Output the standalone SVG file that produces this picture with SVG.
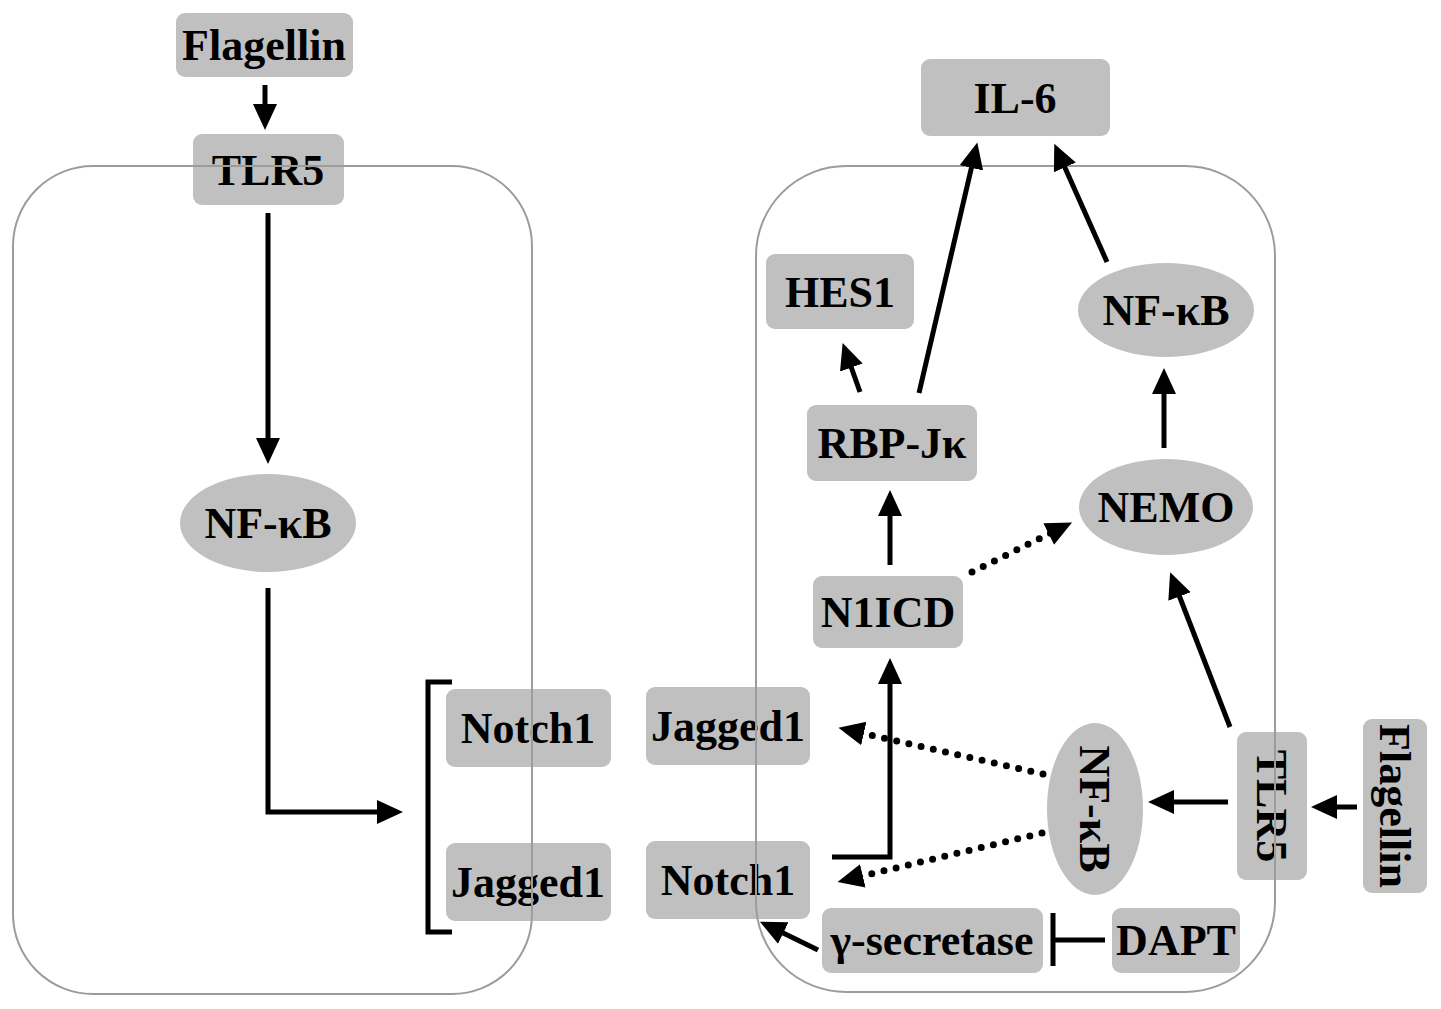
<svg xmlns="http://www.w3.org/2000/svg" width="1441" height="1009" viewBox="0 0 1441 1009">
<defs>
<style>
.box{fill:#c0c0c0;}
.t{font-family:"Liberation Serif","Times New Roman",serif;font-weight:bold;font-size:44px;fill:#000;text-anchor:middle;}
.ln{fill:none;stroke:#000;stroke-width:5;}
.dot{fill:none;stroke:#000;stroke-width:7;stroke-linecap:round;stroke-dasharray:0 12.5;}
.cell{fill:none;stroke:#9c9c9c;stroke-width:2;}
</style>
<marker id="ah" markerUnits="userSpaceOnUse" markerWidth="28" markerHeight="26" refX="7" refY="12" orient="auto">
<path d="M0,0 L26,12 L0,24 z" fill="#000"/>
</marker>
</defs>
<rect width="1441" height="1009" fill="#fff"/>
<g id="nodes">
<g id="flagellin_left"><rect class="box" x="176" y="13" width="177" height="64" rx="9"/><text class="t" x="264" y="60">Flagellin</text></g>
<g id="tlr5_left"><rect class="box" x="193" y="134" width="151" height="71" rx="9"/><text class="t" x="268" y="185">TLR5</text></g>
<g id="nfkb_left"><ellipse class="box" cx="268" cy="523" rx="88" ry="49"/><text class="t" x="268" y="538">NF-κB</text></g>
<g id="notch1_left"><rect class="box" x="446" y="689" width="165" height="78" rx="9"/><text class="t" x="528" y="743">Notch1</text></g>
<g id="jagged1_left"><rect class="box" x="446" y="843" width="165" height="78" rx="9"/><text class="t" x="528" y="897">Jagged1</text></g>
<g id="jagged1_mid"><rect class="box" x="646" y="687" width="164" height="78" rx="9"/><text class="t" x="728" y="741">Jagged1</text></g>
<g id="notch1_mid"><rect class="box" x="646" y="841" width="164" height="78" rx="9"/><text class="t" x="728" y="895">Notch1</text></g>
<g id="il6"><rect class="box" x="921" y="59" width="189" height="77" rx="9"/><text class="t" x="1015" y="113">IL-6</text></g>
<g id="hes1"><rect class="box" x="766" y="254" width="148" height="75" rx="9"/><text class="t" x="840" y="307">HES1</text></g>
<g id="rbpjk"><rect class="box" x="807" y="405" width="170" height="76" rx="9"/><text class="t" x="892" y="458">RBP-Jκ</text></g>
<g id="nfkb_right"><ellipse class="box" cx="1166" cy="310" rx="88" ry="47"/><text class="t" x="1166" y="325">NF-κB</text></g>
<g id="nemo"><ellipse class="box" cx="1166" cy="507" rx="87" ry="48"/><text class="t" x="1166" y="522">NEMO</text></g>
<g id="n1icd"><rect class="box" x="813" y="576" width="150" height="72" rx="9"/><text class="t" x="888" y="627">N1ICD</text></g>
<g id="nfkb_vertical"><ellipse class="box" cx="1095" cy="809" rx="48" ry="86"/><text class="t" transform="translate(1095,809) rotate(90)" x="0" y="15">NF-κB</text></g>
<g id="tlr5_right"><rect class="box" x="1237" y="732" width="70" height="148" rx="9"/><text class="t" transform="translate(1272,806) rotate(90)" x="0" y="15">TLR5</text></g>
<g id="flagellin_right"><rect class="box" x="1363" y="719" width="64" height="174" rx="9"/><text class="t" transform="translate(1395,806) rotate(90)" x="0" y="15">Flagellin</text></g>
<g id="gamma_secretase"><rect class="box" x="822" y="908" width="221" height="65" rx="9"/><text class="t" x="932" y="955">γ-secretase</text></g>
<g id="dapt"><rect class="box" x="1112" y="908" width="128" height="65" rx="9"/><text class="t" x="1176" y="955">DAPT</text></g>
</g>
<g id="cells">
<rect class="cell" x="13" y="166" width="519" height="828" rx="80"/>
<rect class="cell" x="756" y="166" width="519" height="826" rx="90"/>
</g>
<g id="connectors">
<line class="ln" x1="265" y1="85" x2="265" y2="111" marker-end="url(#ah)"/>
<line class="ln" x1="268" y1="213" x2="268" y2="445" marker-end="url(#ah)"/>
<path class="ln" d="M268,588 V812 H384" marker-end="url(#ah)"/>
<path class="ln" d="M452,682 H428 V932 H452"/>
<line class="ln" x1="860" y1="392" x2="849" y2="361" marker-end="url(#ah)"/>
<line class="ln" x1="919" y1="393" x2="973" y2="161" marker-end="url(#ah)"/>
<line class="ln" x1="1107" y1="262" x2="1062" y2="161" marker-end="url(#ah)"/>
<line class="ln" x1="1164" y1="448" x2="1164" y2="387" marker-end="url(#ah)"/>
<line class="ln" x1="890" y1="565" x2="890" y2="509" marker-end="url(#ah)"/>
<line class="dot" x1="972" y1="572" x2="1055" y2="531" marker-end="url(#ah)"/>
<line class="ln" x1="1230" y1="727" x2="1177" y2="590" marker-end="url(#ah)"/>
<line class="ln" x1="1357" y1="807" x2="1330" y2="807" marker-end="url(#ah)"/>
<line class="ln" x1="1228" y1="802" x2="1167" y2="802" marker-end="url(#ah)"/>
<path class="ln" d="M1105,940 H1053 M1053,913 V966"/>
<line class="dot" x1="1043" y1="774" x2="857" y2="732" marker-end="url(#ah)"/>
<line class="dot" x1="1042" y1="833" x2="856" y2="877.5" marker-end="url(#ah)"/>
<path class="ln" d="M832,857 H890 V677" marker-end="url(#ah)"/>
<line class="ln" x1="818" y1="950" x2="777" y2="930" marker-end="url(#ah)"/>
</g>
</svg>
